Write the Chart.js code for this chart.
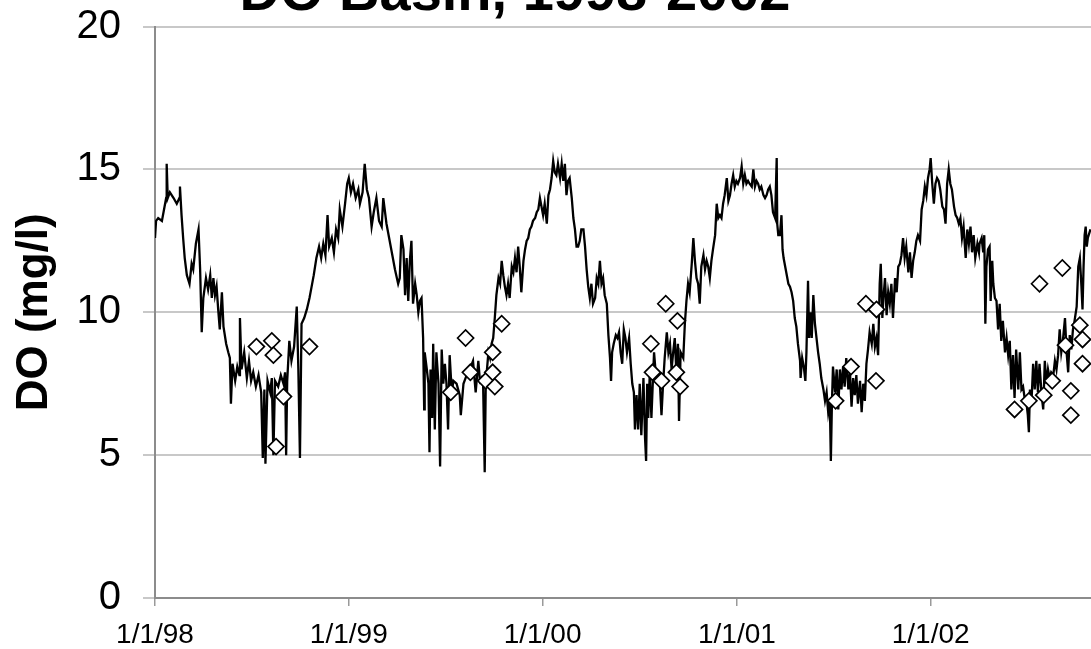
<!DOCTYPE html>
<html><head><meta charset="utf-8">
<script src="https://cdn.jsdelivr.net/npm/chart.js@4.4.1/dist/chart.umd.min.js"></script>
<style>
html,body{margin:0;padding:0;width:1091px;height:649px;overflow:hidden;background:#fff;}
#wrap{position:absolute;left:-61px;top:-36px;width:1152px;height:685px;}
</style></head><body>
<div id="wrap"><canvas id="c"></canvas></div>
<script>
// x values are days since 1/1/98
const tickDays = [0, 365, 730, 1096, 1461];
const tickLabels = ['1/1/98', '1/1/99', '1/1/00', '1/1/01', '1/1/02'];
const yTicks = [0, 5, 10, 15, 20];

const lineDays = [
  0,2,6,13,17,21,22,24,28,35, 41,46,47,50,53,56,60,65,69,72, 77,82,85,88,91,96,100,104,107,110,
  113,116,119,122,126,129,134,138,141,143, 146,151,155,159,160,163,168,173,177,181,
  185,190,195,200,203,206,208,212,217,220, 223,226,232,237,242,245,247,249,253,257,
  262,267,270,273,276,281,286,291,295,299, 304,309,313,317,321,325,328,333,337,341,
  345,348,353,358,362,365,369,373,378,383, 386,391,395,399,403,408,412,417,422,427,
  430,436,441,446,452,458,
  461,464,468,471,474,477,480,483,486,490, 493,496,499,502,505,507,508,512,515,517,
  519,522,524,527,530,534,537,540,543,546, 549,552,555,559,562,568,574,576,581,587,
  593,599,604,609,612,615,618,621,623,628, 631,634,637,640,643,647,650,653,656,659,
  662,665,668,672,675,678,681,684,687,690, 694,697,700,703,706,709,712,716,719,722,
  725,728,731,734,738,741,744,747,750,753, 756,759,763,766,769,772,775,778,781,785,
  788,791,794,797,800,803,807,810,813,816, 819,822,825,829,832,835,838,
  841,844,847,851,854,857,859,861,864,868, 871,874,877,880,883,886,889,893,896,899,
  902,904,907,910,913,916,920,923,925,927, 929,932,935,938,940,943,946,951,954,957,
  960,964,967,970,973,976,979,982,985,987, 990,995,998,1001,1004,1007,1011,1014,1017,1020,
  1023,1026,1029,1033,1036,1039,1042,1045,1048,1051, 1055,1058,1061,1064,1067,1070,1073,1077,1080,1083,
  1086,1089,1092,1095,1098,1102,1105,1108,1111,1114, 1117,1120,1124,1127,1130,1133,1136,1139,1142,1146,
  1149,1152,1155,1158,1161,1164,1168,1171,1172,1174,
  1177,1180,1182,1184,1188,1193,1196,1199,1202,1205, 1208,1211,1215,1216,1219,1222,1225,1227,1230,1232,
  1235,1237,1240,1243,1246,1249,1252,1255,1259,1262, 1265,1268,1271,1273,1275,1277,1281,1284,1287,1290,
  1293,1296,1299,1302,1306,1309,1312,1315,1318,1321, 1324,1328,1331,1334,1337,1340,1343,1346,1350,1353,
  1356,1359,1362,1365,1367,1370,1372,1375,1378,1381, 1384,1387,1390,1394,1397,1400,1403,1406,1409,1412,
  1415,1419,1422,1425,1428,1431,1434,1437,1441,1444, 1447,1450,1453,1456,1459,1461,1464,1467,1470,1473,
  1476,1479,1483,1486,1489,1492,1495,1498,1501,1505, 1508,1511,1514,1517,1520,1523,1527,1530,1533,1536,
  1539,1542,1545,1549,1552,
  1553,1557,1560,1562,1564,1566,1569,1572,1574,1577, 1579,1582,1585,1588,1591,1594,1597,1601,1604,1607,
  1610,1613,1616,1619,1622,1626,1629,1632,1635,1638, 1641,1644,1646,1648,1651,1654,1657,1660,1663,1666,
  1670,1673,1676,1679,1682,1685,1688,1692,1695,1698, 1701,1704,1707,1710,1714,1717,1720,1723,1726,1729,
  1732,1736,1739,1742,1745,1747,1749,1751,1753,1755, 1757,1762
];
const lineValues = [
  12.6,13.2,13.3,13.2,13.6,14.0,15.2,14.0,14.2,14.0, 13.8,14.0,14.4,13.4,12.6,11.9,11.3,11.0,11.7,11.5, 12.4,12.9,11.5,9.3,10.5,11.2,10.8,11.3,10.5,11.2,
  10.6,10.9,10.1,9.4,10.7,9.5,8.9,8.6,8.4,6.8, 8.2,7.6,8.1,7.8,9.8,8.0,8.6,7.7,8.3,7.6,
  7.9,7.4,7.8,7.2,4.9,7.3,4.7,7.6,7.2,7.7, 5.0,7.6,7.4,7.8,7.5,7.9,5.0,7.6,9.0,8.3,
  8.8,10.2,8.0,4.9,9.6,9.8,10.1,10.5,10.9,11.3, 11.9,12.3,11.9,12.4,12.0,13.4,12.3,12.6,12.1,12.9,
  12.6,13.6,13.0,13.8,14.5,14.7,14.2,14.5,14.0,14.3, 13.8,14.2,15.2,14.3,14.0,13.0,13.5,14.0,13.2,13.0,
  14.0,13.1,12.6,12.1,11.5,11.0,
  11.2,12.7,12.2,10.6,11.9,10.4,11.8,12.5,10.3,11.0, 10.6,10.0,10.4,10.5,9.1,6.6,8.6,8.0,7.5,5.1,
  8.0,6.3,8.9,5.9,8.6,7.5,4.6,8.7,7.5,8.2, 7.5,5.9,8.5,7.2,7.6,7.5,7.1,6.4,7.5,7.8,
  8.0,8.3,7.2,8.3,7.6,7.7,7.5,4.4,7.5,8.6, 8.4,8.9,9.1,9.8,10.6,11.2,11.0,11.8,11.3,10.9,
  10.6,11.0,10.5,11.6,11.4,11.9,11.4,12.3,11.6,10.7, 11.8,12.2,12.5,12.6,12.9,13.0,13.2,13.3,13.5,13.6,
  14.0,13.7,13.4,13.8,13.1,14.1,14.3,14.7,15.3,14.9, 14.8,15.2,14.7,15.2,14.6,15.2,14.1,14.6,14.7,14.0,
  13.3,12.9,12.3,12.3,12.5,12.9,12.9,12.3,11.5,10.9, 10.5,11.0,10.3,10.5,11.2,11.0,11.8,
  11.0,11.2,10.6,10.3,9.2,8.4,7.6,8.6,8.9,9.2, 9.1,9.3,8.6,8.2,9.4,9.1,8.6,9.1,8.2,7.5,
  7.2,5.9,7.1,5.9,7.5,5.7,7.7,5.6,4.8,7.5, 6.3,7.9,6.3,7.7,8.6,7.9,7.6,7.5,6.4,7.5,
  8.4,9.3,8.6,8.9,8.0,8.6,9.1,7.9,8.9,6.2, 8.6,8.4,9.6,10.4,11.0,10.7,11.7,12.6,11.8,11.2,
  11.0,10.3,11.6,12.0,11.5,11.8,11.6,11.2,11.8,12.2, 12.7,13.8,13.3,13.4,13.3,13.8,14.1,14.7,13.9,14.1,
  14.5,14.8,14.4,14.6,14.5,14.7,15.1,14.5,14.8,14.5, 14.6,14.5,14.4,15.0,14.4,14.6,14.5,14.3,14.4,14.1,
  14.0,14.1,14.3,14.4,14.1,13.5,13.3,15.4,13.1,12.7,
  12.7,13.4,12.2,11.9,11.5,11.0,10.9,10.7,10.4,9.8, 9.5,8.9,8.3,7.7,8.4,8.1,7.6,8.6,11.1,9.1,
  10.0,9.1,10.6,9.6,9.1,8.6,8.2,7.7,7.3,6.9, 7.2,6.5,6.9,4.8,6.8,8.1,7.2,8.0,6.6,8.0,
  7.3,8.1,7.4,8.4,7.3,7.9,6.7,7.7,7.1,7.8, 6.8,7.6,6.5,7.5,6.9,8.2,8.7,9.3,8.9,9.6,
  8.8,9.1,8.5,11.0,11.7,9.8,10.5,11.2,9.9,10.7, 10.3,11.0,9.8,11.2,10.7,11.6,11.7,12.0,12.6,11.9,
  12.3,11.4,12.1,11.2,11.8,12.1,12.5,12.7,12.5,13.6, 13.9,14.4,14.1,14.7,15.0,15.4,14.5,13.8,14.5,14.7,
  14.6,14.3,13.7,13.6,13.1,14.5,15.0,14.5,14.3,13.7, 13.4,13.3,13.1,13.3,12.6,13.0,11.9,12.9,12.4,13.0,
  12.1,12.7,11.9,12.4,12.1,
  12.4,12.6,12.1,12.7,9.6,11.6,12.2,12.3,10.4,11.8, 11.0,10.5,10.4,9.4,10.3,9.0,9.7,8.6,9.1,8.5,
  9.0,7.3,8.5,7.0,8.7,7.3,8.6,7.3,7.4,7.0, 6.9,6.4,5.8,7.3,6.9,8.2,7.3,8.3,7.2,8.2,
  7.1,6.6,8.3,7.5,8.0,7.7,7.9,7.8,8.3,8.0, 8.5,9.4,8.6,9.0,9.8,8.6,7.9,9.2,8.7,9.4,
  9.7,10.2,11.6,11.9,10.9,10.1,11.6,12.7,13.0,12.3, 12.6,12.9
];

const obsDays = [
  191,220,223,228,242,291,
  557,585,594,623,636,636,640,653,
  934,937,954,962,982,984,989,
  1282,1311,1339,1358,1359,
  1619,1646,1666,1674,1690,1709,1715,1725,1725,1742,1747,1747
];
const obsValues = [
  8.8,9.0,8.5,5.3,7.05,8.8,
  7.2,9.1,7.9,7.6,8.6,7.9,7.4,9.6,
  8.9,7.9,7.6,10.3,7.9,9.7,7.4,
  6.9,8.1,10.3,7.6,10.1,
  6.6,6.9,11.0,7.1,7.6,11.55,8.85,7.25,6.4,9.55,9.05,8.2
];

const FONT = "'Liberation Sans', Arial, Helvetica, sans-serif";

new Chart(document.getElementById('c'), {
  type: 'line',
  data: {
    datasets: [
      {
        label: 'DO continuous',
        data: lineDays.map((d, i) => ({x: d, y: lineValues[i]})),
        borderColor: '#000',
        borderWidth: 2.3,
        borderJoinStyle: 'miter',
        pointRadius: 0,
        fill: false,
        tension: 0,
        order: 2
      },
      {
        label: 'DO grab samples',
        type: 'scatter',
        data: obsDays.map((d, i) => ({x: d, y: obsValues[i]})),
        pointStyle: 'rectRot',
        pointRadius: 8,
        pointBorderWidth: 1.7,
        pointBackgroundColor: '#fff',
        pointBorderColor: '#000',
        showLine: false,
        order: 1
      }
    ]
  },
  options: {
    responsive: true,
    maintainAspectRatio: false,
    animation: false,
    layout: {padding: 0, autoPadding: false},
    plugins: {
      legend: {display: false},
      tooltip: {enabled: false},
      title: {
        display: true,
        text: 'DO Basin, 1998-2002',
        color: '#000',
        font: {family: FONT, size: 56, weight: 'bold', lineHeight: 1.1},
        padding: {top: 0, bottom: 1}
      }
    },
    scales: {
      x: {
        type: 'linear',
        min: 0,
        max: 1763,
        afterBuildTicks: s => { s.ticks = tickDays.map(v => ({value: v})); },
        afterFit: s => { s.height = 51; s.paddingRight = 0; s.paddingLeft = 0; },
        ticks: {
          callback: (v, i) => tickLabels[i],
          font: {family: FONT, size: 28},
          color: '#000',
          padding: 12,
          maxRotation: 0,
          autoSkip: false
        },
        grid: {drawOnChartArea: false, drawTicks: true, tickLength: 8, color: '#9a9a9a', lineWidth: 1.5},
        border: {display: true, color: '#8c8c8c', width: 2}
      },
      y: {
        min: 0,
        max: 20,
        afterBuildTicks: s => { s.ticks = yTicks.map(v => ({value: v})); },
        afterFit: s => { s.width = 216; },
        ticks: {font: {family: FONT, size: 40}, color: '#000', padding: 22},
        grid: {color: '#c8c8c8', lineWidth: 2, tickLength: 12, drawTicks: true},
        border: {color: '#8c8c8c', width: 2},
        title: {
          display: true,
          text: 'DO (mg/l)',
          color: '#000',
          font: {family: FONT, size: 44, weight: 'bold'},
          padding: {top: 69, bottom: 0}
        }
      }
    }
  }
});
</script>
</body></html>
